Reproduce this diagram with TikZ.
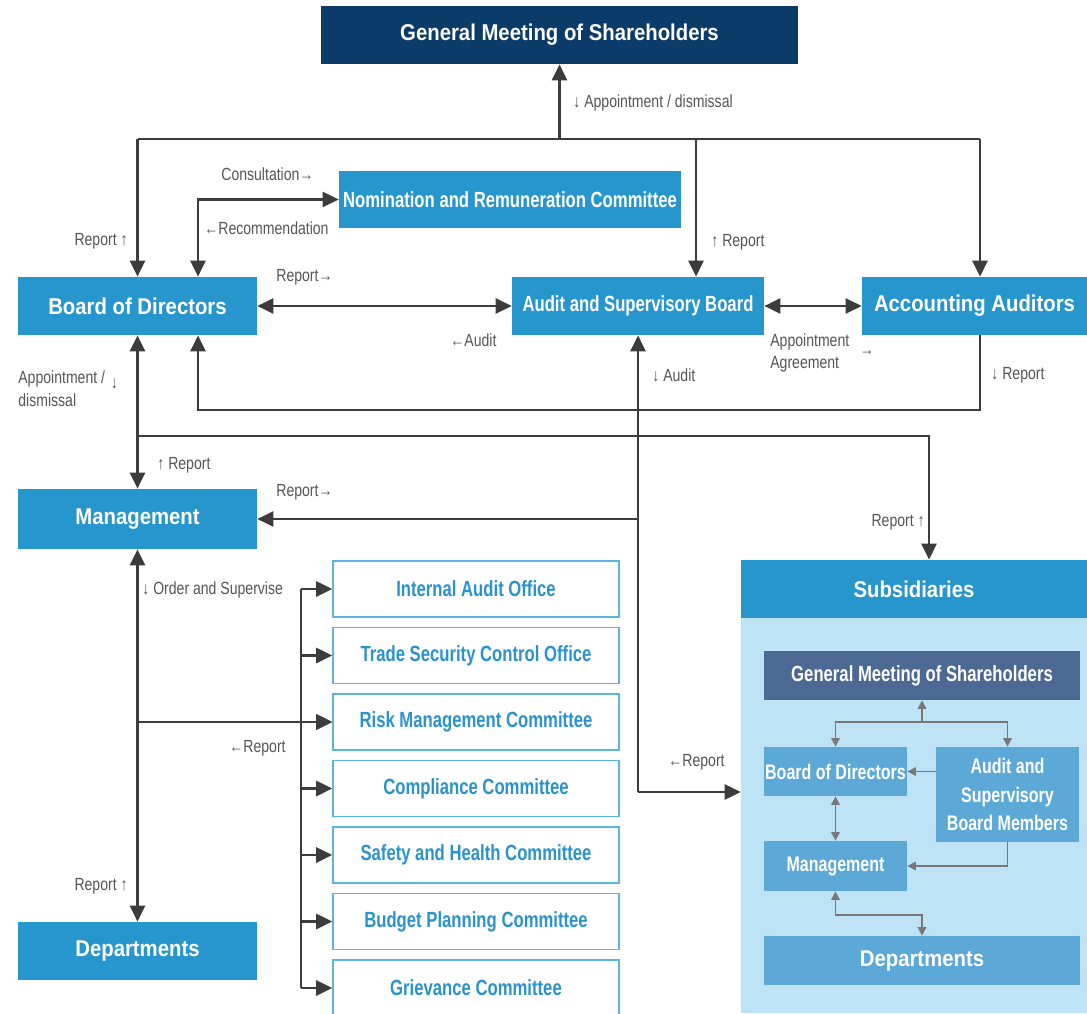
\documentclass[tikz,border=0pt]{standalone}
\usepackage{fontspec}
\setmainfont{Liberation Sans}
\newfontfamily\widefont{Liberation Sans}[FakeStretch=0.89]
\newfontfamily\narrowfont{Liberation Sans}[FakeStretch=0.76]
\newfontfamily\labelfont{Liberation Sans}[FakeStretch=0.8]
\usetikzlibrary{arrows.meta}
\definecolor{navy}{RGB}{11,59,105}
\definecolor{mainblue}{RGB}{38,150,205}
\definecolor{panelblue}{RGB}{190,227,247}
\definecolor{slateblue}{RGB}{76,105,148}
\definecolor{softblue}{RGB}{92,168,215}
\definecolor{comline}{RGB}{90,181,224}
\definecolor{comtext}{RGB}{42,147,204}
\definecolor{darkline}{RGB}{60,60,60}
\definecolor{lblgray}{RGB}{85,85,85}
\definecolor{subline}{RGB}{120,120,120}
\tikzset{
  box/.style={fill=mainblue, text=white, inner sep=0pt, minimum height=1.16cm, font=\widefont\bfseries\fontsize{13}{15}\selectfont},
  nbox/.style={box, font=\narrowfont\bfseries\fontsize{12.5}{15}\selectfont},
  combox/.style={draw=comline, line width=0.9pt, fill=white, text=comtext, inner sep=0pt, minimum width=5.72cm, minimum height=1.12cm, font=\narrowfont\bfseries\fontsize{12.5}{15}\selectfont},
  sbox/.style={fill=softblue, text=white, inner sep=0pt, minimum width=2.86cm, minimum height=0.98cm, font=\narrowfont\bfseries\fontsize{12}{16}\selectfont},
  lbl/.style={text=lblgray, inner sep=0pt, font=\labelfont\fontsize{10}{13}\selectfont},
  link/.style={draw=darkline, line width=1.5pt},
  arr/.style={link, -{Triangle[length=0.32cm, width=0.3cm]}},
  darr/.style={link, {Triangle[length=0.32cm, width=0.3cm]}-{Triangle[length=0.32cm, width=0.3cm]}},
  sarr/.style={draw=subline, line width=0.9pt, -{Triangle[length=0.17cm, width=0.17cm]}},
  sdarr/.style={draw=subline, line width=0.9pt, {Triangle[length=0.17cm, width=0.17cm]}-{Triangle[length=0.17cm, width=0.17cm]}}
}
\begin{document}
\begin{tikzpicture}[x=0.02cm, y=-0.02cm]
\useasboundingbox (0,0) rectangle (1087,1013);
\clip (0,0) rectangle (1087,1013);
% main boxes
\node[box, fill=navy, minimum width=9.54cm] (gms) at (559.5,35) {General Meeting of Shareholders};
\node[box, minimum width=4.78cm] (bod) at (137.5,306) {Board of Directors};
\node[nbox, minimum width=6.84cm, minimum height=1.14cm] (nrc) at (510,199.5) {Nomination and Remuneration Committee};
\node[nbox, minimum width=5.04cm] (asb) at (638,306) {Audit and Supervisory Board};
\node[box, minimum width=4.5cm] (aa) at (974.5,306) {Accounting Auditors};
\node[box, minimum width=4.78cm, minimum height=1.2cm] (mgmt) at (137.5,519) {Management};
\node[box, minimum width=4.78cm] (dept) at (137.5,951) {Departments};
% committees
\coordinate (cbus) at (301,589);
\foreach \name/\txt [count=\i from 0] in {iao/Internal Audit Office, tsco/Trade Security Control Office, rmc/Risk Management Committee, cc/Compliance Committee, shc/Safety and Health Committee, bpc/Budget Planning Committee, gc/Grievance Committee}{
  \node[combox] (\name) at (476,589+66.5*\i) {\txt};
  \draw[arr] (\name.west -| cbus) -- (\name.west);
}
\draw[link] (cbus) -- (cbus |- gc.west);
% subsidiaries
\node[fill=panelblue, minimum width=6.92cm, minimum height=9.06cm, inner sep=0pt] (subsbg) at (914,786.5) {};
\node[box, minimum width=6.92cm] (subs) at (914,589) {Subsidiaries};
\node[sbox, fill=slateblue, minimum width=6.32cm, font=\narrowfont\bfseries\fontsize{12.5}{15}\selectfont] (sgms) at (922,675.5) {General Meeting of Shareholders};
\node[sbox] (sbod) at (835.5,771.5) {Board of Directors};
\node[sbox, minimum height=1.9cm, align=center] (sasb) at (1007.5,794.5) {Audit and\\Supervisory\\Board Members};
\node[sbox, minimum height=1cm] (smgmt) at (835.5,866) {Management};
\node[sbox, minimum width=6.32cm, font=\widefont\bfseries\fontsize{13}{15}\selectfont] (sdept) at (922,960.5) {Departments};
\coordinate (sbus) at (922,722);
\draw[sarr] (sbus) -- (sgms.south);
\draw[sarr] (sbus) -| (sbod.north);
\draw[sarr] (sbus) -| (sasb.north);
\draw[sarr] (sasb.west |- sbod.east) -- (sbod.east);
\draw[sdarr] (sbod.south) -- (smgmt.north);
\draw[sarr] (sasb.south) |- (smgmt.east);
\coordinate (sdj) at (922,915);
\draw[sdarr] (smgmt.south) |- (sdj) -- (sdept.north);
% connectors
\coordinate (busL) at (137.5,139);
\coordinate (busA) at (696,139);
\coordinate (busR) at (980,139);
\draw[link] (busL) -- (busR);
\draw[arr] (gms.south |- busL) -- (gms.south);
\draw[arr] (busL) -- (bod.north);
\draw[arr] (busA) -- (busA |- asb.north);
\draw[arr] (busR) -- (busR |- aa.north);
\coordinate (nrcJ) at (198,199.5);
\draw[darr] (nrcJ |- bod.north) -- (nrcJ) -- (nrc.west);
\draw[darr] (bod.east) -- (asb.west);
\draw[darr] (asb.east) -- (aa.west);
\coordinate (aaJ) at (980,410);
\coordinate (bodJ) at (198,410);
\draw[arr] (aaJ |- aa.south) -- (aaJ) -- (bodJ) -- (bodJ |- bod.south);
\draw[darr] (bod.south) -- (mgmt.north);
\coordinate (subJ) at (137.5,436);
\coordinate (subT) at (929,436);
\draw[arr] (subJ) -- (subT) -- (subT |- subs.north);
\coordinate (asbJ) at (638,792);
\draw[arr] (asbJ) -- (asb.south);
\draw[arr] (asbJ) -- (asbJ -| subsbg.west);
\draw[arr] (asbJ |- mgmt.east) -- (mgmt.east);
\draw[darr] (mgmt.south) -- (dept.north);
\coordinate (rmcJ) at (mgmt.south |- rmc.west);
\draw[arr] (rmcJ) -- (rmc.west);
% labels
\node[lbl, anchor=west] (l_gms) at (573,103) {↓ Appointment / dismissal};
\node[lbl, anchor=east] (l_bodtop) at (128,241) {Report ↑};
\node[lbl, anchor=west] (l_asbtop) at (711,242) {↑ Report};
\node[lbl, anchor=west] (l_cons) at (221,174) {Consultation→};
\node[lbl, anchor=west] (l_rec) at (204,228) {←Recommendation};
\node[lbl, anchor=west] (l_bodasb) at (276,277) {Report→};
\node[lbl, anchor=west] (l_audit) at (450,340) {←Audit};
\node[lbl, anchor=west, align=left] (l_agree) at (770,353) {Appointment\\Agreement};
\node[lbl, anchor=west] at ([xshift=0.2cm]l_agree.east) {→};
\node[lbl, anchor=west] (l_aarep) at (991,375) {↓ Report};
\node[lbl, anchor=west] (l_asbaud) at (652,375) {↓ Audit};
\node[lbl, anchor=west, align=left] (l_appt) at (18,389) {Appointment /\\dismissal};
\node[lbl, anchor=west] at ([xshift=0.1cm, yshift=0.1cm]l_appt.east) {↓};
\node[lbl, anchor=west] (l_mgmtup) at (157,465) {↑ Report};
\node[lbl, anchor=west] (l_mgmtrep) at (276,492) {Report→};
\node[lbl, anchor=east] (l_subrep) at (925,522) {Report ↑};
\node[lbl, anchor=west] (l_order) at (142,590) {↓ Order and Supervise};
\node[lbl, anchor=west] (l_comrep) at (229,748) {←Report};
\node[lbl, anchor=east] (l_deptrep) at (128,886) {Report ↑};
\node[lbl, anchor=west] (l_subsrep) at (668,762) {←Report};
\end{tikzpicture}
\end{document}
